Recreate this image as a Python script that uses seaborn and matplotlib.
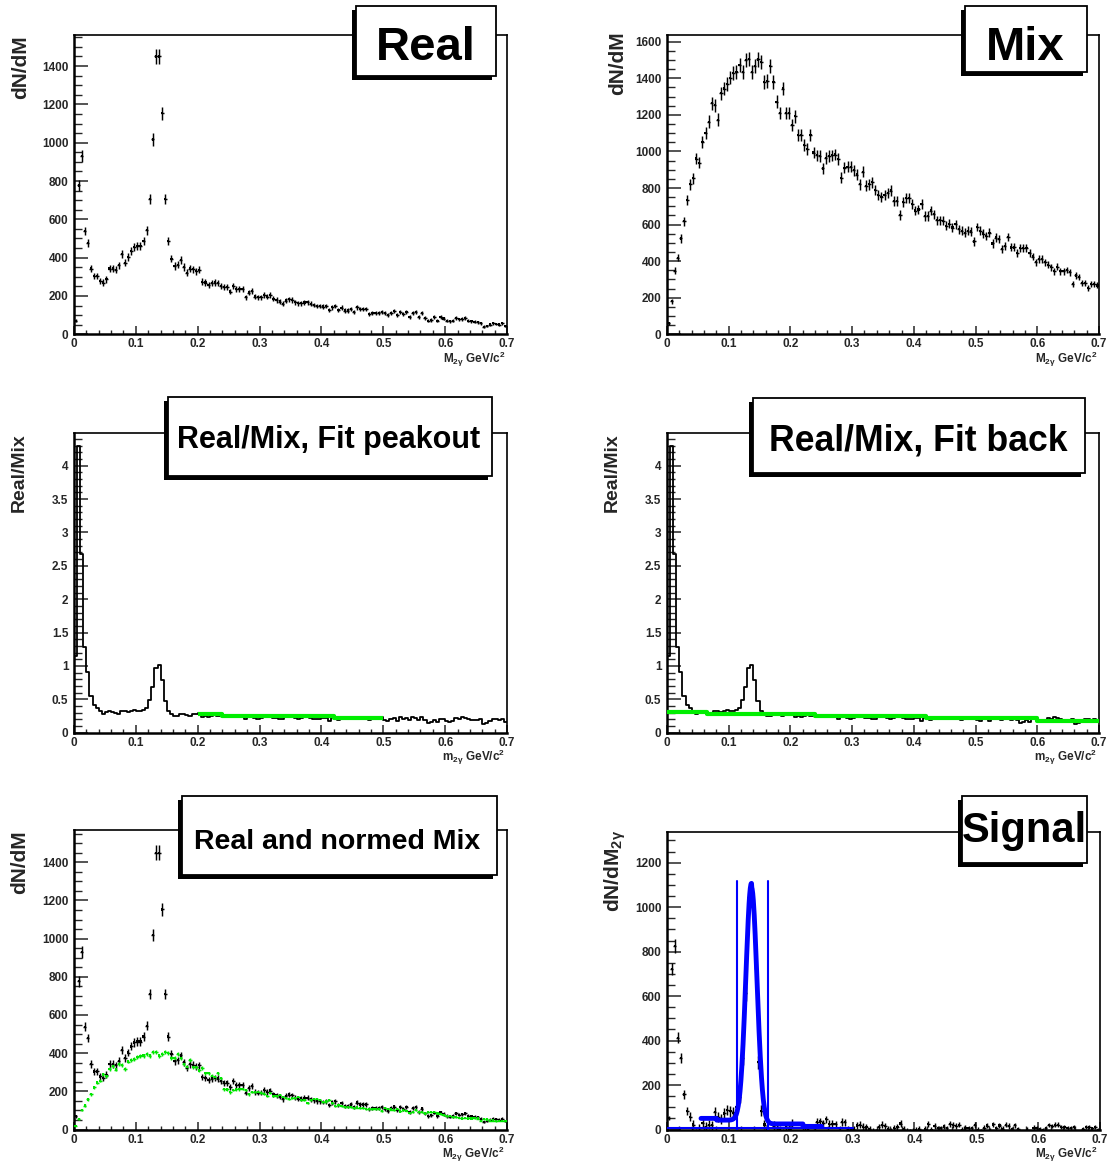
import numpy as np
import pandas as pd
import seaborn as sns
import matplotlib
matplotlib.use("Agg")
import matplotlib.pyplot as plt
from matplotlib.patches import Rectangle
from matplotlib.ticker import MultipleLocator, FuncFormatter

# ---------------- data (140 bins, 0 - 0.7 GeV/c^2) ----------------
x_lo, x_hi, n_bins = 0.0, 0.7, 140

real = [70, 777, 930, 539, 478, 343, 304, 304, 278, 270,
        287, 343, 343, 336, 360, 417, 374, 403, 435, 456,
        461, 461, 487, 543, 708, 1017, 1450, 1450, 1153, 708,
        487, 395, 357, 363, 388, 351, 322, 343, 339, 330,
        336, 275, 270, 258, 267, 270, 267, 253, 246, 246,
        223, 253, 235, 235, 235, 193, 218, 228, 197, 193,
        193, 206, 197, 204, 185, 179, 171, 159, 176, 183,
        179, 167, 162, 162, 166, 167, 159, 153, 148, 148,
        145, 148, 127, 141, 148, 127, 139, 124, 124, 131,
        118, 141, 131, 131, 131, 106, 113, 113, 113, 117,
        110, 99, 113, 120, 101, 117, 106, 117, 92, 113,
        117, 92, 110, 85, 71, 75, 89, 71, 89, 82,
        71, 68, 71, 84, 78, 80, 84, 71, 68, 66,
        64, 57, 40, 44, 51, 57, 54, 51, 57, 44]

mix = [61, 181, 347, 419, 524, 618, 735, 820, 853, 961,
       938, 1051, 1102, 1163, 1265, 1254, 1174, 1319, 1344, 1368,
       1404, 1427, 1434, 1471, 1434, 1500, 1505, 1434, 1467, 1503,
       1489, 1380, 1386, 1467, 1380, 1272, 1210, 1344, 1210, 1210,
       1145, 1192, 1091, 1091, 1037, 1012, 1091, 994, 979, 976,
       907, 965, 976, 979, 983, 958, 856, 911, 916, 916,
       898, 874, 820, 889, 813, 820, 831, 790, 762, 750,
       761, 773, 786, 728, 728, 652, 724, 746, 746, 714,
       677, 683, 714, 647, 647, 677, 656, 623, 623, 620,
       593, 605, 584, 602, 575, 566, 556, 566, 562, 508,
       587, 566, 551, 538, 556, 497, 529, 520, 466, 484,
       533, 475, 475, 443, 472, 472, 472, 443, 425, 394,
       412, 412, 394, 381, 367, 345, 370, 345, 345, 352,
       340, 273, 322, 313, 280, 280, 255, 276, 276, 267]

# background fit of Real/Mix (drawn as steps)
fitback_edges = [0.0, 0.065, 0.24, 0.42, 0.6, 0.7]
fitback_levels = [0.305, 0.28, 0.25, 0.215, 0.18]
# fit with the peak excluded
peakout_edges = [0.2, 0.24, 0.42, 0.5]
peakout_levels = [0.285, 0.25, 0.215]
# normalisation applied to Mix for the "normed Mix" panel
norm_edges = [0.0, 0.065, 0.24, 0.42, 0.6, 0.7]
norm_levels = [0.30, 0.27, 0.215, 0.19, 0.168]

# signal fit: gaussian + stepwise background
sig_mean, sig_sigma, sig_amp = 0.1365, 0.009, 1065
sig_bg_edges = [0.055, 0.08, 0.137, 0.22, 0.25]
sig_bg_levels = [50, 42, 25, 14]
window_lo, window_hi, window_top = 0.113, 0.163, 1118
baseline_level, baseline_end = 5, 0.3

# ---------------- derived ----------------
edges = np.linspace(x_lo, x_hi, n_bins + 1)
centers = 0.5 * (edges[:-1] + edges[1:])
half_w = 0.5 * (edges[1] - edges[0])
real_a = np.array(real, float)
mix_a = np.array(mix, float)
ratio = real_a / mix_a
norm_f = np.array(norm_levels)[np.clip(np.searchsorted(norm_edges, centers) - 1, 0, len(norm_levels) - 1)]
normed = mix_a * norm_f
signal = real_a - normed
signal_err = np.sqrt(real_a + (norm_f ** 2) * mix_a)
ratio_steps = pd.DataFrame({"m": edges, "ratio": np.append(ratio, ratio[-1])})

# ---------------- style ----------------
sns.set_theme(style="white")
plt.rcParams['font.family'] = ['Liberation Sans', 'DejaVu Sans']
plt.rcParams['font.weight'] = 'bold'
plt.rcParams['mathtext.fontset'] = 'custom'
plt.rcParams['mathtext.rm'] = 'Liberation Sans:bold'
plt.rcParams['mathtext.it'] = 'Liberation Sans:bold'
plt.rcParams['mathtext.bf'] = 'Liberation Sans:bold'
plt.rcParams['mathtext.default'] = 'rm'

W, H = 1108, 1167
fig = plt.figure(figsize=(W / 100, H / 100), dpi=100)
fig.patch.set_facecolor('white')


def fx(x):
    return x / W


def fy(y):
    return 1 - y / H


def make_axes(l, t, r, b):
    ax = fig.add_axes([fx(l), fy(b), (r - l) / W, (b - t) / H])
    ax.set_facecolor('white')
    return ax


def style_axes(ax, ymax, ymaj, ymin_):
    ax.set_xlim(x_lo, x_hi)
    ax.set_ylim(0, ymax)
    ax.xaxis.set_major_locator(MultipleLocator(0.1))
    ax.xaxis.set_minor_locator(MultipleLocator(0.02))
    ax.yaxis.set_major_locator(MultipleLocator(ymaj))
    ax.yaxis.set_minor_locator(MultipleLocator(ymin_))
    fmt = FuncFormatter(lambda v, p: f"{v:g}")
    ax.xaxis.set_major_formatter(fmt)
    ax.yaxis.set_major_formatter(fmt)
    ax.tick_params(axis='y', which='major', direction='in', length=10, width=1.1,
                   left=True, right=False, labelsize=8.5, pad=4)
    ax.tick_params(axis='y', which='minor', direction='in', length=5.5, width=1.0,
                   left=True, right=False)
    ax.tick_params(axis='x', which='major', direction='in', length=6, width=1.1,
                   bottom=True, top=False, labelsize=8.5, pad=3)
    ax.tick_params(axis='x', which='minor', direction='in', length=3, width=1.0,
                   bottom=True, top=False)
    for lab in ax.get_xticklabels() + ax.get_yticklabels():
        lab.set_fontweight('bold')
    for s in ['top', 'right']:
        ax.spines[s].set_linewidth(1.2)
        ax.spines[s].set_color('black')
    for s in ['left', 'bottom']:
        ax.spines[s].set_linewidth(1.8)
        ax.spines[s].set_color('black')
    ax.grid(False)
    ax.set_xlabel('')
    ax.set_ylabel('')


def points(ax, y, yerr, color, ms=2.5):
    ax.errorbar(centers, y, xerr=half_w, yerr=yerr, fmt='none', ecolor=color,
                elinewidth=1.05, capsize=0, zorder=3)
    sns.scatterplot(x=centers, y=y, ax=ax, color=color, s=ms, marker='s',
                    edgecolor='none', linewidth=0, zorder=4, legend=False)


def steps(ax, e, levels, color, lw):
    xs, ys = [], []
    for i, lv in enumerate(levels):
        xs += [e[i], e[i + 1]]
        ys += [lv, lv]
    ax.plot(xs, ys, color=color, lw=lw, solid_capstyle='butt', zorder=5)


def title_box(x0, y0, x1, y1, text, size, tx, tb):
    fig.add_artist(Rectangle((fx(x0 - 4), fy(y1 + 4)), (x1 - x0) / W, (y1 - y0) / H,
                             transform=fig.transFigure, facecolor='black',
                             edgecolor='none', zorder=10))
    fig.add_artist(Rectangle((fx(x0), fy(y1)), (x1 - x0) / W, (y1 - y0) / H,
                             transform=fig.transFigure, facecolor='white',
                             edgecolor='black', lw=1.3, zorder=11))
    fig.text(fx(tx), fy(tb), text, ha='center', va='baseline', fontsize=size,
             fontweight='bold', color='black', zorder=12)


def ylab(x, top, text, size=15):
    fig.text(fx(x), fy(top), text, rotation=90, ha='center', va='top',
             fontsize=size, fontweight='bold')


def xlab(right, y, text, size=8.5):
    fig.text(fx(right), fy(y), text, ha='right', va='top', fontsize=size,
             fontweight='bold')


def ratio_hist(ax):
    sns.lineplot(data=ratio_steps, x="m", y="ratio", ax=ax, color='black',
                 linewidth=1.3, drawstyle='steps-post', zorder=3, legend=False)


M_lab = r"M$_{2γ}$ GeV/c$^{2}$"
m_lab = r"m$_{2γ}$ GeV/c$^{2}$"

# ---- Real ----
ax1 = make_axes(74, 35, 507, 334.3)
points(ax1, real_a, np.sqrt(real_a), 'black')
style_axes(ax1, 1562, 200, 50)
ylab(21, 35, "dN/dM")
xlab(505, 350, M_lab)
title_box(356, 6, 496, 76, "Real", 34, 426, 60)

# ---- Mix ----
ax2 = make_axes(667, 35, 1099, 334.3)
points(ax2, mix_a, np.sqrt(mix_a), 'black')
style_axes(ax2, 1637, 200, 50)
ylab(618, 31, "dN/dM")
xlab(1097, 350, M_lab)
title_box(965, 6, 1087, 72, "Mix", 34, 1025, 60)

# ---- Real/Mix, Fit peakout ----
ax3 = make_axes(74, 433, 507, 732.7)
ratio_hist(ax3)
steps(ax3, peakout_edges, peakout_levels, '#00ee00', 3.0)
style_axes(ax3, 4.49, 0.5, 0.1)
ylab(19, 433, "Real/Mix", 14)
xlab(505, 748, m_lab)
title_box(168, 397, 492, 476, "Real/Mix, Fit peakout", 22, 329, 448)

# ---- Real/Mix, Fit back ----
ax4 = make_axes(667, 433, 1099, 732.7)
ratio_hist(ax4)
steps(ax4, fitback_edges, fitback_levels, '#00ee00', 3.0)
style_axes(ax4, 4.49, 0.5, 0.1)
ylab(612, 433, "Real/Mix", 14)
xlab(1097, 748, m_lab)
title_box(753, 398, 1085, 473, "Real/Mix, Fit back", 25.7, 918, 450)

# ---- Real and normed Mix ----
ax5 = make_axes(74, 830, 507, 1129.5)
points(ax5, real_a, np.sqrt(real_a), 'black')
points(ax5, normed, norm_f * np.sqrt(mix_a), '#00e600')
style_axes(ax5, 1569, 200, 50)
ylab(20, 830, "dN/dM")
xlab(504, 1145, M_lab)
title_box(182, 796, 497, 875, "Real and normed Mix", 20.5, 337, 849)

# ---- Signal ----
ax6 = make_axes(667, 832, 1100, 1129.5)
points(ax6, signal, signal_err, 'black')
xf = np.linspace(sig_bg_edges[0], sig_bg_edges[-1], 400)
bg_idx = np.clip(np.searchsorted(sig_bg_edges, xf, side='right') - 1, 0, len(sig_bg_levels) - 1)
yf = np.array(sig_bg_levels)[bg_idx] + sig_amp * np.exp(-0.5 * ((xf - sig_mean) / sig_sigma) ** 2)
sns.lineplot(x=xf, y=yf, ax=ax6, color='#0000ff', linewidth=3.5, zorder=6, sort=False)
ax6.plot([window_lo, window_lo], [0, window_top], color='#0000ff', lw=1.5, zorder=6)
ax6.plot([window_hi, window_hi], [0, window_top], color='#0000ff', lw=1.5, zorder=6)
ax6.plot([0, baseline_end], [baseline_level, baseline_level], color='#0000ff', lw=1.5, zorder=6)
style_axes(ax6, 1338, 200, 50)
ylab(615, 830, r"dN/dM$_{2γ}$")
xlab(1097, 1145, M_lab)
title_box(962, 796, 1087, 863, "Signal", 30, 1024, 842)

fig.savefig("out.png", dpi=100, facecolor='white')
